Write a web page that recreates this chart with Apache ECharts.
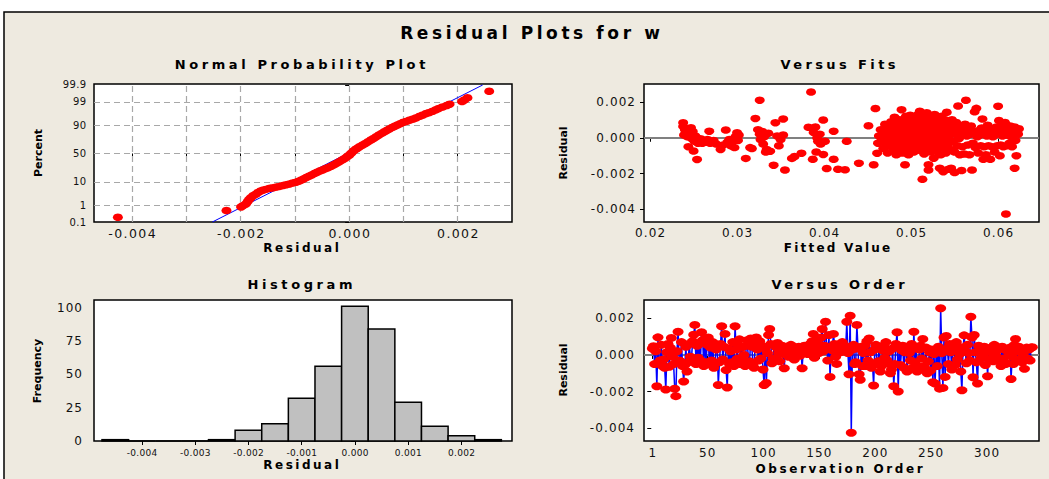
<!DOCTYPE html>
<html><head><meta charset="utf-8">
<script src="https://cdn.jsdelivr.net/npm/echarts@6/dist/echarts.min.js"></script>
<style>html,body{margin:0;padding:0;background:#fff;}#chart{width:1049px;height:479px;}</style>
</head><body><div id="chart"></div>
<script>
// ---------------- texts ----------------
const mainTitle = 'Residual Plots for w';
const panelTitles = ['Normal Probability Plot', 'Versus Fits', 'Histogram', 'Versus Order'];
const xAxisNames = ['Residual', 'Fitted Value', 'Residual', 'Observation Order'];
const yAxisNames = ['Percent', 'Residual', 'Frequency', 'Residual'];

// ---------------- Normal probability plot ----------------
const probTickPercents = [0.1, 1, 10, 50, 90, 99, 99.9];
const probTickLabels = ['0.1', '1', '10', '50', '90', '99', '99.9'];
const probGridPercents = [1, 10, 50, 90, 99];
const probResidualLabels = [-0.004, -0.002, 0.000, 0.002];
const probResidualGrid = [-0.004, -0.003, -0.002, -0.001, 0, 0.001, 0.002];
// [residual, percent]
const probPoints = [
[-0.00426,0.2],[-0.00226,0.5],[-0.00199,0.8],[-0.00195,0.95],[-0.0019,1.15],[-0.00187,1.5],[-0.00184,1.9],[-0.00181,2.3],
[-0.00177,2.8],[-0.00172,3.3],[-0.00168,3.9],[-0.00163,4.5],[-0.00158,5.0],[-0.00152,5.4],[-0.00146,5.8],[-0.0014,6.1],
[-0.00134,6.5],[-0.00128,6.9],[-0.00122,7.4],[-0.00116,7.9],[-0.0011,8.5],[-0.00104,9.1],[-0.00098,9.7],[-0.00093,10.5],
[-0.00088,11.5],[-0.00083,12.8],[-0.00078,14.2],[-0.00073,15.6],[-0.00068,17.0],[-0.00063,18.6],[-0.00058,20.2],[-0.00053,21.8],
[-0.00048,23.3],[-0.00043,24.8],[-0.00038,26.5],[-0.00033,28.3],[-0.00028,30.5],[-0.00023,33.0],[-0.00018,35.6],[-0.00013,38.3],
[-0.00008,41.2],[-0.00004,44.0],[0,46.8],[0.00004,50.5],[0.00008,54.5],[0.00012,57.5],[0.00016,60.0],[0.0002,62.5],
[0.00025,65.0],[0.0003,67.5],[0.00035,70.2],[0.0004,72.8],[0.00045,75.2],[0.0005,77.6],[0.00055,79.8],[0.0006,81.8],
[0.00065,83.6],[0.0007,85.3],[0.00075,86.8],[0.0008,88.1],[0.00085,89.3],[0.0009,90.3],[0.00095,91.2],[0.001,92.0],
[0.00106,92.7],[0.00112,93.4],[0.00118,94.0],[0.00124,94.7],[0.0013,95.3],[0.00136,95.9],[0.00142,96.4],[0.00148,96.8],
[0.00154,97.2],[0.0016,97.6],[0.00165,97.9],[0.00172,98.2],[0.0018,98.5],[0.00185,98.7],[0.00208,99.05],[0.00212,99.2],
[0.00218,99.4],[0.00258,99.75]
];
const probFitLine = [[-0.00252, 0.1], [0.00246, 99.9]];

// ---------------- Versus fits ----------------
const fitsLabels = [0.02, 0.03, 0.04, 0.05, 0.06];
const residualLabels = [-0.004, -0.002, 0.000, 0.002];
// [fitted value, residual]
const fitsPoints = [
[0.0238,0.00084],[0.0238,0.00063],[0.0239,0.00015],[0.024,0.00045],[0.0241,0.0003],[0.0243,0.00005],[0.0244,-0.0005],[0.0245,0.0002],
[0.0247,0.00056],[0.0248,-0.00005],[0.0249,0.00035],[0.025,-0.00074],[0.0251,-0.0002],[0.0252,0.0001],[0.0254,-0.00121],[0.0255,-0.0003],
[0.0256,-0.00017],[0.0258,-0.00005],[0.026,-0.0003],[0.0262,-0.00015],[0.0264,-0.00025],[0.0266,-0.0001],[0.0268,0.00037],[0.0269,-0.0003],
[0.0271,-0.0002],[0.0273,-0.00015],[0.0276,-0.00035],[0.0281,-0.00065],[0.0284,-0.0004],[0.0287,0.00043],[0.0289,-0.00025],[0.0291,-0.0001],
[0.0293,-0.00045],[0.0295,-0.0002],[0.0297,-0.00055],[0.0298,0.00005],[0.03,0.00028],[0.0301,-0.00015],[0.0302,0.00015],[0.031,-0.00115],
[0.0315,-0.00055],[0.0317,-0.0006],[0.0321,0.00108],[0.0324,0.00045],[0.0326,0.0021],[0.0326,0.0002],[0.0327,-0.0001],[0.0329,0.00035],
[0.033,-0.00035],[0.0331,0.00005],[0.0333,-0.0008],[0.0334,-0.00065],[0.0336,0.00025],[0.0338,-0.00075],[0.0342,-0.00153],[0.0344,0.00084],
[0.0346,0.0001],[0.0348,-0.00045],[0.035,-0.0001],[0.0353,0.00105],[0.0353,0.00015],[0.0355,-0.0018],[0.0363,-0.00115],[0.0366,-0.00105],
[0.0374,-0.00086],[0.0382,0.00058],[0.0385,0.00255],[0.0387,-0.0012],[0.0388,0.0003],[0.039,0.0006],[0.0391,-0.0008],[0.0392,0],
[0.0393,-0.0002],[0.0395,0.0002],[0.0396,-0.00035],[0.0399,0.00099],[0.0399,-0.00093],[0.0401,-0.0002],[0.0403,-0.00172],[0.0411,0.00037],
[0.0411,-0.0012],[0.0416,-0.00176],[0.0424,-0.00179],[0.0426,-0.0002],
[0.044,-0.00142],[0.0451,0.00067],[0.0457,-0.00151],[0.0459,0.00163],[0.0461,-0.00086],[0.0462,-0.0003],[0.0463,0.0001],
[0.0465,0.00045],[0.0466,-0.00015],[0.0467,0.0002],[0.0468,-0.0006],[0.0469,0.00005],[0.047,0.00075],[0.0471,-0.00035],[0.0472,0.0003],
[0.0473,-0.00085],[0.0474,0.00055],[0.0474,-0.00005],[0.0475,0.00015],
[0.0476,-0.00045],[0.0477,0.0009],[0.0477,0.00035],[0.0478,-0.0002],[0.0479,0.0006],[0.0479,-0.0007],[0.048,0.0001],[0.0481,0.00115],
[0.0481,-0.0004],[0.0482,0.00045],[0.0483,-0.00095],[0.0483,0.00025],[0.0484,-0.0001],[0.0484,0.0008],[0.0485,-0.00055],[0.0485,0.00005],
[0.0486,0.0005],[0.0486,-0.0003],
[0.0487,0.001],[0.0487,0.0002],[0.0488,-0.00065],[0.0488,0.00065],[0.0489,0.00157],[0.0489,-0.00015],[0.049,0.00035],[0.049,-0.00085],
[0.0491,0.00085],[0.0491,0],[0.0492,-0.00045],[0.0492,0.00055],[0.0493,-0.00151],[0.0493,0.00025],[0.0494,0.0012],[0.0494,-0.00025],
[0.0495,0.0007],[0.0495,-0.0007],[0.0496,0.0001],[0.0496,0.00045],
[0.0497,-0.00095],[0.0497,0.00095],[0.0498,0.0003],[0.0498,-0.00035],[0.0499,0.0006],[0.0499,0.00125],[0.05,-0.0001],[0.05,-0.0006],
[0.0501,0.0004],[0.0501,0.0008],[0.0502,-0.00025],[0.0502,0.00015],[0.0503,0.00105],[0.0503,-0.0008],[0.0504,0.0005],[0.0504,-0.00045],
[0.0505,0.00025],[0.0505,0.0009],[0.0506,-0.00015],[0.0506,0.00065],[0.0507,-0.00055],[0.0507,0.00005],
[0.0508,0.0013],[0.0508,0.00035],[0.0509,-0.0003],[0.0509,0.0007],[0.051,0.00148],[0.051,-0.0007],[0.0511,0.00015],[0.0511,0.00055],
[0.0512,-0.00005],[0.0512,0.001],[0.0513,-0.00232],[0.0513,0.0004],[0.0514,-0.0005],[0.0514,0.00085],[0.0515,0.0002],[0.0515,-0.0009],
[0.0516,0.0012],[0.0516,0.0006],[0.0517,-0.0002],[0.0517,0.0003],[0.0518,-0.00065],[0.0518,0.0014],[0.0519,0.0001],[0.0519,0.00075],
[0.052,-0.0018],[0.052,-0.0015],[0.0521,0.00045],[0.0521,-0.00035],[0.0522,0.00095],[0.0522,0.0002],[0.0523,-0.0008],[0.0523,0.00065],
[0.0524,0.00115],[0.0524,-0.0001],[0.0525,0.00035],[0.0525,-0.00055],[0.0526,-0.00114],[0.0526,0.0008],[0.0527,0.00005],[0.0527,0.0013],
[0.0528,-0.0004],[0.0528,0.0005],[0.0529,0.00025],[0.0529,-0.00075],[0.053,0.00105],[0.053,0.00015],[0.0531,-0.00025],[0.0531,0.0007],
[0.0532,-0.0006],[0.0532,0.0004],
[0.0533,-0.0017],[0.0533,0.0009],[0.0534,0],[0.0534,-0.00095],[0.0535,0.00055],[0.0535,0.0012],[0.0536,-0.0003],[0.0536,0.0003],
[0.0537,-0.00189],[0.0537,0.00075],[0.0538,-0.00055],[0.0538,0.00015],[0.0539,0.001],[0.0539,-0.00015],[0.054,0.00045],[0.054,-0.00085],
[0.0541,0.00142],[0.0541,0.00025],[0.0542,-0.0004],[0.0542,0.00065],[0.0543,-0.00175],[0.0543,0.00005],[0.0544,0.00085],[0.0545,-0.00065],
[0.0546,-0.0017],[0.0546,0.00035],[0.0547,0.001],[0.0548,-0.0002],[0.0549,0.00055],[0.055,-0.00194],[0.055,-0.0008],[0.0551,0.0002],
[0.0552,0.00085],[0.0553,-0.00045],[0.0554,0.00177],[0.0554,0.0004],[0.0555,-0.00005],[0.0556,-0.00095],[0.0557,0.0006],[0.0558,-0.00183],
[0.0558,0.00015],[0.0559,-0.0005],[0.056,0.0003],[0.0561,-0.0009],[0.0562,0.00075],[0.0563,0.00209],
[0.0564,0.0001],[0.0565,-0.0004],[0.0566,0.00045],[0.0567,-0.00095],[0.0568,0.0002],[0.0569,0.00065],[0.057,-0.0018],[0.0571,-0.0003],
[0.0572,0.00035],[0.0573,0.00145],[0.0574,-0.00055],[0.0575,0.00164],[0.0576,0.00005],[0.0577,-0.00085],[0.0578,0.0004],[0.0579,0.00015],
[0.058,-0.00045],[0.0581,0.00055],[0.0582,0.00105],[0.0583,-0.0012],[0.0583,0.00025],[0.0584,-0.0005],[0.0585,0.00045],[0.0586,-0.00095],
[0.0587,0.0001],[0.0588,0.0007],[0.0589,-0.00045],[0.059,0.0003],[0.0591,-0.0012],[0.0592,0.0005],[0.0593,-0.0005],[0.0594,0.00005],
[0.0595,0.0004],[0.0596,-0.0008],[0.0597,0.0002],[0.0598,0.0006],[0.0599,-0.00045],[0.06,0.00176],[0.0601,0.00096],[0.0602,-0.00101],
[0.0602,0.00035],[0.0603,-0.0004],[0.0604,0.0007],[0.0605,0.0001],[0.0606,-0.0005],[0.0607,0.00045],[0.0608,0.00085],[0.0609,-0.00426],
[0.0609,0.00015],[0.061,-0.00045],[0.0611,0.00055],[0.0612,0.00025],[0.0613,-0.0003],[0.0614,0.00065],[0.0615,0.00005],[0.0616,-0.0005],
[0.0617,0.0004],[0.0619,-0.0017],[0.0619,0.0006],[0.062,-0.00015],[0.0621,-0.001],[0.0622,0.00035],[0.0623,0.0002],[0.0624,0.0005]
];

// ---------------- Histogram ----------------
const histBinCenters = [-0.0045,-0.004,-0.0035,-0.003,-0.0025,-0.002,-0.0015,-0.001,-0.0005,0,0.0005,0.001,0.0015,0.002,0.0025];
const histCounts     = [1,0,0,0,1,8,13,32,56,101,84,29,11,4,1];
const histBinWidth = 0.0005;
const histResidualLabels = [-0.004,-0.003,-0.002,-0.001,0,0.001,0.002];
const histFreqLabels = [0,25,50,75,100];

// ---------------- Versus order ----------------
const orderLabels = [1,50,100,150,200,250,300];
const orderResiduals = [
0.00035,0.00047,-0.0005,0.0002,-0.00171,0.00096,-0.0004,-0.0003,0.00055,-0.0006,
-0.00025,-0.0007,-0.00189,0.00015,0.0006,-0.00065,0.0004,0.00093,-0.0001,-0.0005,
-0.00185,-0.00225,0.0002,0.00127,-0.0003,-0.00035,0.0007,-0.0006,-0.00145,-0.00055,
0.00045,-0.0009,-0.0004,0.0006,-0.0001,-0.0002,0.00075,0.0011,0.00164,-0.0005,
0.0005,-0.00015,0.00065,-0.0003,0.00124,0.0008,-0.0006,0.00087,-0.0004,0.00055,
0.00095,-0.0005,0.0004,-0.0003,0.0007,-0.0007,-0.00045,0.0003,0.0005,-0.00164,
-0.0004,0.0006,0.00157,-0.00025,0.00045,0.00115,-0.00082,-0.00178,0.00035,-0.0005,
0.0002,-0.0004,0.0007,-0.0006,0.00157,0.0003,-0.0002,0.00055,0.00085,-0.0005,
0.0004,-0.0003,0,-0.0006,0.0005,0.0008,-0.0004,-0.00035,0.0009,0.00045,
-0.0005,-0.0007,0.0006,0.00095,0.0003,-0.0003,0.00075,-0.0002,0.0005,-0.0008,
-0.00164,0.00035,-0.00153,0.0001,0.00109,0.00142,0.0006,-0.00045,-0.0002,0.00055,
-0.0002,0.0004,0.00065,0.0001,-0.00035,0.0003,0.0005,0.00005,-0.00073,0.00025,
0.00045,0.00015,-0.0001,0.00035,0.00055,0,0.0003,-0.00025,0.0004,0.0002,
0.0001,0.00045,-0.00005,0.0003,-0.00073,0.00025,0.0005,0.00015,0.00035,0.00005,
0.0004,0.0006,0.0002,0.00075,0.00115,-0.00015,0.00045,0.00085,0.0003,0.0001,
0.00055,0.00095,0.00142,0.0002,0.0005,0.00181,0.00035,-0.0003,0.00109,-0.0012,
0.00045,0.00025,0.00115,0.0006,-0.0001,-0.00049,0.0003,0.00055,0.00015,0.0004,
0.0007,0.0002,0.0005,0.00035,0.00181,0.0001,-0.00105,0.00214,-0.00425,0.0003,
0.00055,-0.0005,-0.0004,0.00164,0.00035,-0.00105,-0.00136,0.00045,-0.0006,0.0001,
0.0005,-0.0006,0.00075,-0.0003,0.0009,0.00015,-0.0007,-0.00049,-0.00167,0.0003,
0.00055,-0.0005,-0.00035,0.00045,-0.0009,-0.0006,0.00025,0.0005,-0.00015,0.0007,
-0.0003,-0.00045,0.0002,-0.001,-0.0008,0.00035,-0.00171,-0.0005,0.0006,0.00124,
-0.002,0.0004,-0.00055,0.00025,0.0005,-0.0007,0.00015,0.00035,-0.0009,0.00045,
0.0001,-0.0003,0.0006,-0.0007,0.00127,-0.0004,0.00035,-0.0009,-0.00065,0.0003,
0.0005,-0.0002,0.00087,-0.0006,-0.00075,0.0004,-0.001,-0.00035,0.00015,-0.00085,
0.0003,-0.00149,0.00005,-0.00156,0.0002,-0.0006,0.00045,-0.00184,0.00255,0.0001,
-0.0018,0.00095,-0.0012,0.00104,0.00035,-0.0005,0.0006,0.00015,-0.0008,0.0004,
0.00025,-0.00055,0.0007,-0.00025,0.00045,0.00005,-0.0009,-0.00193,0.0003,0.00107,
0.0002,-0.00045,0.00055,0.0001,-0.0003,0.00209,0.00095,-0.00122,0.00109,0.00015,
-0.0004,-0.00156,0.0005,0.00025,-0.0002,0.00035,0,0.00045,-0.00055,0.0002,
-0.00116,0.0003,-0.00025,0.0004,0.0001,-0.00035,0.00055,0.00005,0.00025,-0.00015,
0.00035,-0.0003,-0.0006,0.00045,-0.0002,0.0003,-0.0005,-0.00045,0.00025,0.0001,
0.0004,-0.00131,-0.0001,-0.0005,0.00055,0.00087,-0.00025,0.0002,0.00045,-0.00035,
0.00015,-0.0004,-0.00005,-0.00076,0.00025,0.0004,-0.0002,0.0003,-0.0003,0.0004,0.00042
];

// ---------------- helpers ----------------
// inverse standard normal CDF (probability-paper axis transform)
function probit(p){
  const a=[-3.969683028665376e+01,2.209460984245205e+02,-2.759285104469687e+02,1.383577518672690e+02,-3.066479806614716e+01,2.506628277459239e+00];
  const b=[-5.447609879822406e+01,1.615858368580409e+02,-1.556989798598866e+02,6.680131188771972e+01,-1.328068155288572e+01];
  const c=[-7.784894002430293e-03,-3.223964580411365e-01,-2.400758277161838e+00,-2.549732539343734e+00,4.374664141464968e+00,2.938163982698783e+00];
  const d=[7.784695709041462e-03,3.224671290700398e-01,2.445134137142996e+00,3.754408661907416e+00];
  const pl=0.02425, ph=1-pl; let q, r;
  if(p<pl){q=Math.sqrt(-2*Math.log(p));return (((((c[0]*q+c[1])*q+c[2])*q+c[3])*q+c[4])*q+c[5])/((((d[0]*q+d[1])*q+d[2])*q+d[3])*q+1);}
  if(p<=ph){q=p-0.5;r=q*q;return (((((a[0]*r+a[1])*r+a[2])*r+a[3])*r+a[4])*r+a[5])*q/(((((b[0]*r+b[1])*r+b[2])*r+b[3])*r+b[4])*r+1);}
  q=Math.sqrt(-2*Math.log(1-p));return -(((((c[0]*q+c[1])*q+c[2])*q+c[3])*q+c[4])*q+c[5])/((((d[0]*q+d[1])*q+d[2])*q+d[3])*q+1);
}
const z = pct => probit(pct/100);
const probTickZ = probTickPercents.map(z);

const FONT = '"DejaVu Sans", Verdana, sans-serif';
const TXT = '#111';
const RED = '#FF0000', BLUE = '#0000FF';

const axisTick = {show:true, inside:false, length:4, lineStyle:{color:'#000', width:1}};
function valueAxis(gi, min, max, labels, fmt, fontSize, margin, tickValues){
  return {type:'value', gridIndex:gi, min:min, max:max, scale:true,
    axisLine:{show:false}, splitLine:{show:false},
    axisTick:Object.assign({customValues: tickValues || labels}, axisTick),
    axisLabel:{customValues:labels, formatter:fmt, color:TXT, fontFamily:FONT, fontSize:fontSize, margin:margin}};
}
const gridStyle = {show:true, backgroundColor:'#fff', borderColor:'#000', borderWidth:1.5, containLabel:false};

const probYFmt = v => { for(let i=0;i<probTickZ.length;i++){ if(Math.abs(probTickZ[i]-v)<1e-6) return probTickLabels[i]; } return ''; };
const f3 = v => v.toFixed(3), f2 = v => v.toFixed(2), f0 = v => String(Math.round(v));

const RES_MIN = -0.0047, RES_MAX = 0.003;
const PROB_Z_MIN = probit(0.001), PROB_Z_MAX = 3.135;

function refLines(lines, style){
  return {symbol:['none','none'], z:1, silent:true, animation:false, label:{show:false}, emphasis:{disabled:true},
    lineStyle:style, data:lines};
}
// dashed probability-paper grid: vertical lines at residual grid values, horizontal at percent grid values
const probGridLines = probResidualGrid.map(v => [{coord:[v, PROB_Z_MIN]}, {coord:[v, PROB_Z_MAX]}])
  .concat(probGridPercents.map(p => ({yAxis:z(p)})));

const dot = {color:RED, opacity:1};

const option = {
  animation:false,
  backgroundColor:'#fff',
  grid:[
    Object.assign({left:94, top:84, width:418, height:138}, gridStyle),
    Object.assign({left:644, top:84, width:395, height:138}, gridStyle),
    Object.assign({left:94, top:300, width:418, height:141}, gridStyle),
    Object.assign({left:644, top:300, width:395, height:141}, gridStyle)
  ],
  xAxis:[
    valueAxis(0, RES_MIN, RES_MAX, probResidualLabels, f3, 12.5, 5, probResidualGrid),
    valueAxis(1, 0.0193, 0.0647, fitsLabels, f2, 12, 5),
    valueAxis(2, -0.0049, 0.00295, histResidualLabels, f3, 9, 7),
    valueAxis(3, -6.5, 347, orderLabels, f0, 12, 6)
  ],
  yAxis:[
    valueAxis(0, PROB_Z_MIN, PROB_Z_MAX, probTickZ, probYFmt, 10, 8),
    valueAxis(1, RES_MIN, RES_MAX, residualLabels, f3, 12, 9),
    valueAxis(2, 0, 105.75, histFreqLabels, f0, 12, 12),
    valueAxis(3, RES_MIN, RES_MAX, residualLabels, f3, 12, 10)
  ],
  series:[
    // normal probability plot: fitted line + dashed grid
    {type:'line', xAxisIndex:0, yAxisIndex:0, z:2, silent:true, symbol:'none',
      lineStyle:{color:BLUE, width:1}, data:probFitLine.map(d=>[d[0], z(d[1])]),
      markLine:refLines(probGridLines, {color:'#A8A8A8', width:1.2, type:[6,4]})},
    {type:'scatter', xAxisIndex:0, yAxisIndex:0, z:3, symbol:'circle', symbolSize:[10,7.5],
      itemStyle:dot, data:probPoints.map(d=>[d[0], z(d[1])])},
    // versus fits
    {type:'scatter', xAxisIndex:1, yAxisIndex:1, z:3, symbol:'circle', symbolSize:[10,7.5],
      itemStyle:dot, data:fitsPoints,
      markLine:refLines([{yAxis:0}], {color:'#808080', width:2, type:'solid'})},
    // histogram
    {type:'custom', xAxisIndex:2, yAxisIndex:2, z:3, silent:true,
      data:histBinCenters.map((c,i)=>[c, histCounts[i]]),
      encode:{x:0, y:1},
      renderItem:function(params, api){
        const c = api.value(0), n = api.value(1);
        const p0 = api.coord([c - histBinWidth/2, n]);
        const p1 = api.coord([c + histBinWidth/2, 0]);
        return {type:'rect', shape:{x:p0[0], y:p0[1], width:p1[0]-p0[0], height:p1[1]-p0[1]},
          style:{fill:'#C0C0C0', stroke:'#000', lineWidth:1.5}};
      }},
    // versus order
    {type:'line', xAxisIndex:3, yAxisIndex:3, z:3, symbol:'circle', symbolSize:[11,8], showAllSymbol:true,
      lineStyle:{color:BLUE, width:1.5}, itemStyle:dot,
      data:orderResiduals.map((v,i)=>[i+1, v]),
      markLine:refLines([{yAxis:0}], {color:'#808080', width:2, type:'solid'})}
  ],
  graphic:{elements:[
    {type:'rect', z:-10, silent:true, shape:{x:4, y:12, width:1100, height:520},
      style:{fill:'#EEEAE0', stroke:'#000', lineWidth:1.5}},
    {type:'text', x:530, y:33, silent:true, style:{text:mainTitle, font:'bold 17px '+FONT, fill:'#000', align:'center', verticalAlign:'middle'}},
    {type:'text', x:300, y:64, silent:true, style:{text:panelTitles[0], font:'bold 13px '+FONT, fill:'#000', align:'center', verticalAlign:'middle'}},
    {type:'text', x:838, y:64, silent:true, style:{text:panelTitles[1], font:'bold 13px '+FONT, fill:'#000', align:'center', verticalAlign:'middle'}},
    {type:'text', x:300, y:284, silent:true, style:{text:panelTitles[2], font:'bold 13px '+FONT, fill:'#000', align:'center', verticalAlign:'middle'}},
    {type:'text', x:838, y:284, silent:true, style:{text:panelTitles[3], font:'bold 13px '+FONT, fill:'#000', align:'center', verticalAlign:'middle'}},
    {type:'text', x:301, y:248, silent:true, style:{text:xAxisNames[0], font:'bold 12px '+FONT, fill:'#000', align:'center', verticalAlign:'middle'}},
    {type:'text', x:837, y:248, silent:true, style:{text:xAxisNames[1], font:'bold 12px '+FONT, fill:'#000', align:'center', verticalAlign:'middle'}},
    {type:'text', x:301, y:465, silent:true, style:{text:xAxisNames[2], font:'bold 12px '+FONT, fill:'#000', align:'center', verticalAlign:'middle'}},
    {type:'text', x:839, y:469, silent:true, style:{text:xAxisNames[3], font:'bold 12px '+FONT, fill:'#000', align:'center', verticalAlign:'middle'}},
    {type:'text', x:38, y:153, rotation:Math.PI/2, silent:true, style:{text:yAxisNames[0], font:'bold 11px '+FONT, fill:'#000', align:'center', verticalAlign:'middle'}},
    {type:'text', x:563, y:153, rotation:Math.PI/2, silent:true, style:{text:yAxisNames[1], font:'bold 11px '+FONT, fill:'#000', align:'center', verticalAlign:'middle'}},
    {type:'text', x:37, y:371, rotation:Math.PI/2, silent:true, style:{text:yAxisNames[2], font:'bold 11px '+FONT, fill:'#000', align:'center', verticalAlign:'middle'}},
    {type:'text', x:563, y:370, rotation:Math.PI/2, silent:true, style:{text:yAxisNames[3], font:'bold 11px '+FONT, fill:'#000', align:'center', verticalAlign:'middle'}}
  ]}
};

// letter spacing (Minitab-style spaced lettering), applied to the SVG text nodes
const TITLE_SPACING = {'Residual Plots for w':3.6, 'Normal Probability Plot':3.6, 'Versus Fits':3.4, 'Histogram':3.6,
  'Versus Order':3.4, 'Residual':2.5, 'Fitted Value':2.2, 'Observation Order':2.6};
function tickSpacing(size){ if(size>=12.4) return 1.4; if(size>=11.5) return 1.1; return 0.3; }
function applyLetterSpacing(){
  document.querySelectorAll('#chart text').forEach(t=>{
    const cs = getComputedStyle(t);
    const size = parseFloat(cs.fontSize) || 12;
    const bold = (parseInt(cs.fontWeight,10) >= 600) || cs.fontWeight === 'bold';
    const txt = t.textContent;
    let sp;
    if(bold){ sp = (size >= 11.9 && TITLE_SPACING[txt] != null) ? TITLE_SPACING[txt] : 0; }
    else sp = tickSpacing(size);
    t.setAttribute('letter-spacing', sp);
    const anchor = t.getAttribute('text-anchor') || cs.textAnchor;
    if(anchor === 'middle') t.setAttribute('dx', sp/2);
    else if(anchor === 'end') t.setAttribute('dx', sp);
  });
}

const chart = echarts.init(document.getElementById('chart'), null, {renderer:'svg', width:1049, height:479});
chart.on('finished', applyLetterSpacing);
chart.setOption(option);
applyLetterSpacing();
setTimeout(applyLetterSpacing, 50);
setTimeout(applyLetterSpacing, 300);
</script>
</body></html>
